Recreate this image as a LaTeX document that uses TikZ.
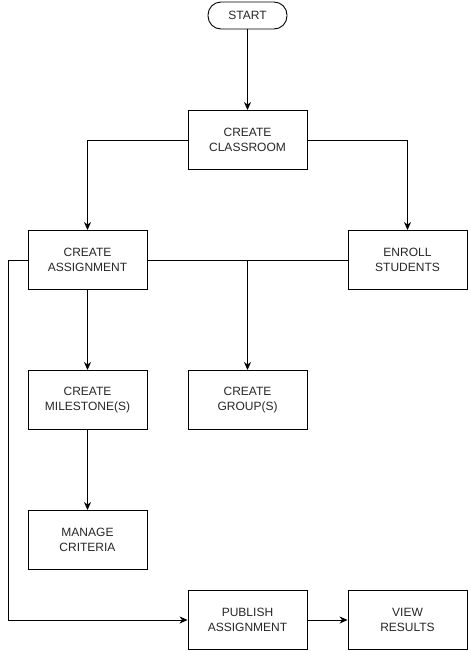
\documentclass[tikz,border=0pt]{standalone}
\usepackage{fontspec}
\setmainfont{Liberation Sans}
\usetikzlibrary{arrows.meta}
\begin{document}
\begin{tikzpicture}[x=1pt,y=-1pt,
  every node/.style={font=\fontsize{12}{15}\selectfont, align=center, inner sep=0pt, text=black!85},
  stepbox/.style={draw=black, line width=0.9pt, minimum width=119pt, minimum height=59pt},
  terminal/.style={draw=black, line width=0.9pt, rounded corners=13pt, minimum width=79pt, minimum height=27pt},
  flow/.style={line width=0.9pt, -{Stealth[length=8pt,width=7pt,inset=2.5pt]}},
  link/.style={line width=0.9pt}]
\useasboundingbox (0,0) rectangle (468,651);
\node[terminal] (start) at (247.5,15.5) {START};
\node[stepbox] (classroom) at (247.5,140) {CREATE\\CLASSROOM};
\node[stepbox] (assign) at (87.5,260) {CREATE\\ASSIGNMENT};
\node[stepbox] (enroll) at (407.5,260) {ENROLL\\STUDENTS};
\node[stepbox] (milestone) at (87.5,400) {CREATE\\MILESTONE(S)};
\node[stepbox] (group) at (247.5,400) {CREATE\\GROUP(S)};
\node[stepbox] (criteria) at (87.5,540) {MANAGE\\CRITERIA};
\node[stepbox] (publish) at (247.5,620) {PUBLISH\\ASSIGNMENT};
\node[stepbox] (results) at (407.5,620) {VIEW\\RESULTS};
\coordinate (split) at (247.5,260);
\coordinate (leftrail) at (8,260);

\draw[flow] (start) -- (classroom);
\draw[flow] (classroom.west) -| (assign.north);
\draw[flow] (classroom.east) -| (enroll.north);
\draw[link] (assign.east) -- (enroll.west);
\draw[flow] (split) -- (group.north);
\draw[flow] (assign) -- (milestone);
\draw[flow] (milestone) -- (criteria);
\draw[flow] (assign.west) -- (leftrail) |- (publish.west);
\draw[flow] (publish) -- (results);
\end{tikzpicture}
\end{document}
